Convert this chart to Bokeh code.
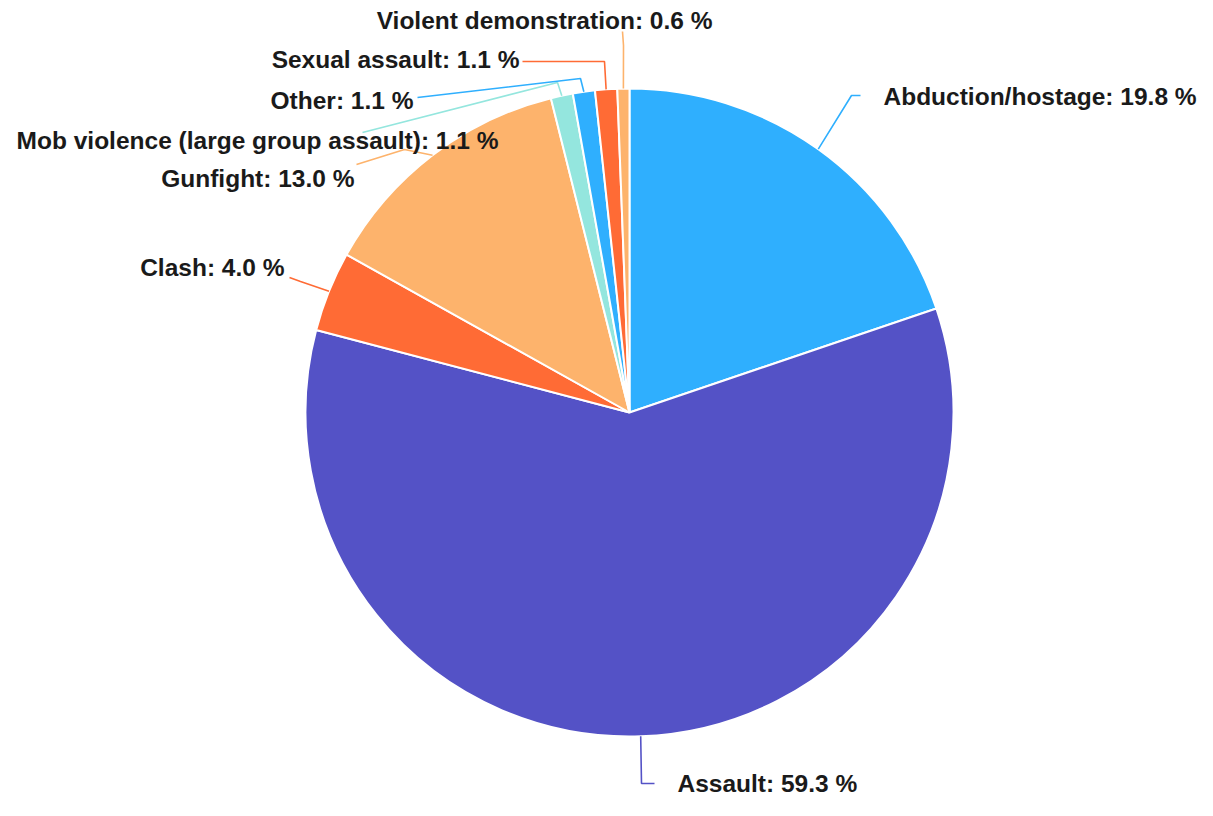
import math
from bokeh.plotting import figure
from bokeh.models import Range1d, ColumnDataSource
from bokeh.core.properties import value
from bokeh.embed import file_html
from bokeh.resources import INLINE

# ---- data ----
categories = ["Abduction/hostage", "Assault", "Clash", "Gunfight",
              "Mob violence (large group assault)", "Other",
              "Sexual assault", "Violent demonstration"]
percents = [19.8, 59.3, 4.0, 13.0, 1.1, 1.1, 1.1, 0.6]
colors = ["#2FAFFE", "#5452C6", "#FF6B35", "#FDB36C",
          "#94E6DE", "#2FAFFE", "#FF6B35", "#FDB36C"]

# ---- layout (picture pixel coordinates; y grows downward) ----
CX, CY, R = 629, 412, 324
label_x = [883, 677, 284, 354, 498, 413, 519, 712]
label_y = [96, 783, 267, 178, 140, 100, 59, 20]
label_align = ["left", "left", "right", "right", "right", "right", "right", "right"]
elbow_pts = [(851, 95), (641, 783), (300, 281), (404, 149),
             (557, 82), (580, 78), (604, 61), (623, 45)]
end_pts = [(860, 95), (654, 783), (289, 277), (356, 164),
           (362, 132), (417, 97), (522, 61), (622, 31)]

W, H = 1197, 800
p = figure(width=W, height=H, output_backend="svg", toolbar_location=None,
           x_range=Range1d(0, W), y_range=Range1d(-H, 0),
           min_border=0, background_fill_color="white")
p.xaxis.visible = False
p.yaxis.visible = False
p.grid.visible = False
p.outline_line_color = None

total = sum(percents)
starts, ends, mids = [], [], []
cum = 0.0
for v in percents:
    a0 = math.pi / 2 - 2 * math.pi * cum / total
    cum += v
    a1 = math.pi / 2 - 2 * math.pi * cum / total
    starts.append(a0)
    ends.append(a1)
    mids.append((a0 + a1) / 2)

src = ColumnDataSource(dict(start=starts, end=ends, color=colors))
p.wedge(x=CX, y=-CY, radius=R, start_angle="start", end_angle="end",
        direction="clock", fill_color="color", line_color="white",
        line_width=2, source=src)

# connector lines
for i, m in enumerate(mids):
    sx = CX + R * math.cos(m)
    sy = -CY + R * math.sin(m)
    ex, ey = elbow_pts[i]
    fx, fy = end_pts[i]
    p.line([sx, ex, fx], [sy, -ey, -fy], line_color=colors[i], line_width=1.6)

labels = [f"{c}: {v:.1f} %" for c, v in zip(categories, percents)]
tsrc = ColumnDataSource(dict(x=label_x, y=[-y for y in label_y], t=labels,
                             align=label_align))
p.text(x="x", y="y", text="t", text_align="align", text_baseline="middle",
       text_font=value("Liberation Sans"), text_font_style="bold",
       text_font_size="24.5px", text_color="#1a1a1a", source=tsrc)

open("out.html", "w").write(file_html(p, INLINE))
